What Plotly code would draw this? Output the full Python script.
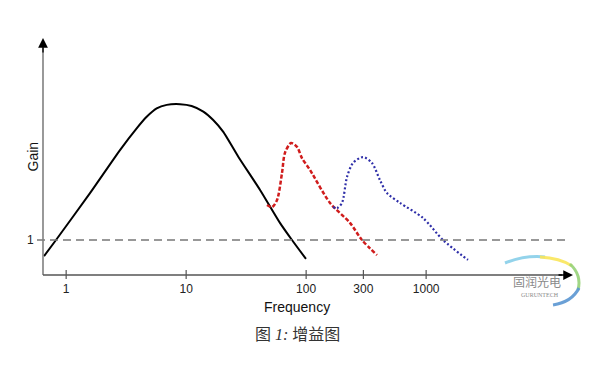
import plotly.graph_objects as go

# ---- data ----
main_freq = [0.654, 0.823, 1.58, 2.81, 3.87, 4.69, 5.68, 6.89, 8.89, 11.1, 13.9, 16.8, 20.4, 27.2, 41.3, 60.5, 76.2, 99.7]
main_gain = [0.54, 1.0, 2.34, 3.57, 4.19, 4.52, 4.76, 4.86, 4.88, 4.83, 4.67, 4.43, 4.09, 3.38, 2.43, 1.49, 1.0, 0.46]

a_freq = [47.2, 51.9, 57.2, 62.9, 66.6, 74.8, 83.9, 92.3, 107.7, 158.1, 232.0, 292.0, 389.0]
a_gain = [2.0, 1.94, 2.14, 2.91, 3.49, 3.77, 3.66, 3.34, 3.0, 2.06, 1.49, 1.0, 0.57]

b_freq = [167.4, 180.8, 199.0, 219.0, 245.7, 297.7, 353.8, 412.6, 471.9, 605.4, 941.5, 1382.0, 2233.0]
b_gain = [1.94, 1.91, 2.06, 2.8, 3.2, 3.37, 3.2, 2.71, 2.34, 2.06, 1.63, 1.0, 0.43]

x_tickvals = [1, 10, 100, 300, 1000]
x_ticktext = ["1", "10", "100", "300", "1000"]
y_tickvals = [1]
y_ticktext = ["1"]
unity_gain = 1
label_a = ("A", 74.8, 3.77)
label_b = ("B", 297.7, 3.37)

W, H = 600, 372
ML, MR, MT, MB = 43, 27, 38, 97
XRANGE = [-0.193, 4.224]
YRANGE = [0, 6.771]
pw, ph = W - ML - MR, H - MT - MB

def px_x(p):
    return (p - ML) / pw

def px_y(p):
    return (H - MB - p) / ph

fig = go.Figure()
fig.add_trace(go.Scatter(x=main_freq, y=main_gain, mode="lines",
                         line=dict(color="#000000", width=2, shape="spline", smoothing=0.6),
                         hoverinfo="skip"))
fig.add_trace(go.Scatter(x=a_freq, y=a_gain, mode="lines",
                         line=dict(color="#d01c1c", width=2.5, dash="4px,2px", shape="spline", smoothing=0.8),
                         hoverinfo="skip"))
fig.add_trace(go.Scatter(x=b_freq, y=b_gain, mode="lines",
                         line=dict(color="#2e2ea8", width=2.2, dash="2px,2.2px", shape="spline", smoothing=0.8),
                         hoverinfo="skip"))

shapes = []
# unity-gain dashed line
shapes.append(dict(type="line", xref="paper", yref="y", x0=px_x(37), x1=px_x(570),
                   y0=unity_gain, y1=unity_gain,
                   line=dict(color="#777777", width=1.3, dash="8px,5px")))
# axis lines
shapes.append(dict(type="line", xref="paper", yref="paper", x0=0, x1=0, y0=0, y1=px_y(48),
                   line=dict(color="#808080", width=1.6)))
shapes.append(dict(type="line", xref="paper", yref="paper", x0=0, x1=px_x(562), y0=0, y1=0,
                   line=dict(color="#555555", width=1.4)))
# crossing ticks on x axis
for tv in x_tickvals:
    shapes.append(dict(type="line", xref="x", yref="paper", ysizemode="pixel", yanchor=0,
                       x0=tv, x1=tv, y0=-4, y1=5, line=dict(color="#555555", width=1.2)))

# watermark swoosh (approximation of the logo), pixel coordinates converted to paper
swoosh = [("rgba(120,200,230,0.8)", [(505, 263), (525, 255), (545, 257)]),
          ("rgba(250,230,90,0.9)", [(540, 257), (560, 258), (572, 266)]),
          ("rgba(150,210,120,0.9)", [(570, 264), (582, 275), (578, 290)]),
          ("rgba(90,150,210,0.9)", [(579, 288), (572, 302), (553, 305)])]
for col, pts in swoosh:
    (x0, y0), (x1, y1), (x2, y2) = pts
    path = (f"M {px_x(x0):.4f},{px_y(y0):.4f} Q {px_x(x1):.4f},{px_y(y1):.4f} "
            f"{px_x(x2):.4f},{px_y(y2):.4f}")
    shapes.append(dict(type="path", xref="paper", yref="paper", path=path,
                       line=dict(color=col, width=3)))

sans = "Liberation Sans, Arial"
annotations = [
    # arrow heads
    dict(xref="paper", yref="paper", x=0, y=1, ax=0, ay=16, axref="pixel", ayref="pixel",
         showarrow=True, arrowhead=2, arrowsize=1.5, arrowwidth=1.3, arrowcolor="#000000", text=""),
    dict(xref="paper", yref="paper", x=1, y=0, ax=-16, ay=0, axref="pixel", ayref="pixel",
         showarrow=True, arrowhead=2, arrowsize=1.5, arrowwidth=1.3, arrowcolor="#000000", text=""),
    dict(text=label_a[0], x=label_a[1], y=label_a[2], xref="x", yref="y", showarrow=False,
         xanchor="center", yanchor="middle", yshift=12, font=dict(family=sans, size=14, color="#111111")),
    dict(text=label_b[0], x=label_b[1], y=label_b[2], xref="x", yref="y", showarrow=False,
         xanchor="center", yanchor="middle", yshift=12, font=dict(family=sans, size=14, color="#111111")),
    dict(text="Gain", xref="paper", yref="paper", x=px_x(32), y=0.5, textangle=-90,
         xanchor="center", yanchor="middle",
         showarrow=False, font=dict(family=sans, size=14, color="#111111")),
    dict(text="Frequency", xref="paper", yref="paper", x=px_x(297), y=px_y(307),
         xanchor="center", yanchor="middle",
         showarrow=False, font=dict(family=sans, size=14, color="#111111")),
    dict(text="图 <i>1:</i> 增益图", xref="paper", yref="paper", x=px_x(297), y=px_y(334),
         xanchor="center", yanchor="middle",
         showarrow=False, font=dict(family="Liberation Serif, Noto Sans CJK SC", size=16, color="#333333")),
    dict(text="固润光电", xref="paper", yref="paper", x=px_x(537), y=px_y(281),
         xanchor="center", yanchor="middle",
         showarrow=False, font=dict(family="Noto Sans CJK SC", size=12, color="#8a8a8a")),
    dict(text="GURUNTECH", xref="paper", yref="paper", x=px_x(540), y=px_y(295),
         xanchor="center", yanchor="middle",
         showarrow=False, font=dict(family="Liberation Serif", size=6, color="#8a8a8a")),
]

fig.update_layout(
    width=W, height=H,
    margin=dict(l=ML, r=MR, t=MT, b=MB, autoexpand=False),
    paper_bgcolor="white", plot_bgcolor="white",
    showlegend=False,
    shapes=shapes, annotations=annotations,
    xaxis=dict(type="log", range=XRANGE, tickvals=x_tickvals, ticktext=x_ticktext,
               ticks="outside", ticklen=3, tickcolor="rgba(0,0,0,0)",
               showgrid=False, zeroline=False, showline=False,
               tickfont=dict(family=sans, size=12, color="#222222")),
    yaxis=dict(range=YRANGE, tickvals=y_tickvals, ticktext=y_ticktext,
               ticks="outside", ticklen=6, tickcolor="rgba(0,0,0,0)",
               showgrid=False, zeroline=False, showline=False,
               tickfont=dict(family=sans, size=12, color="#222222")),
)

fig.write_html("out.html", config={"displayModeBar": False},
               post_script="document.body.style.margin='0';")
